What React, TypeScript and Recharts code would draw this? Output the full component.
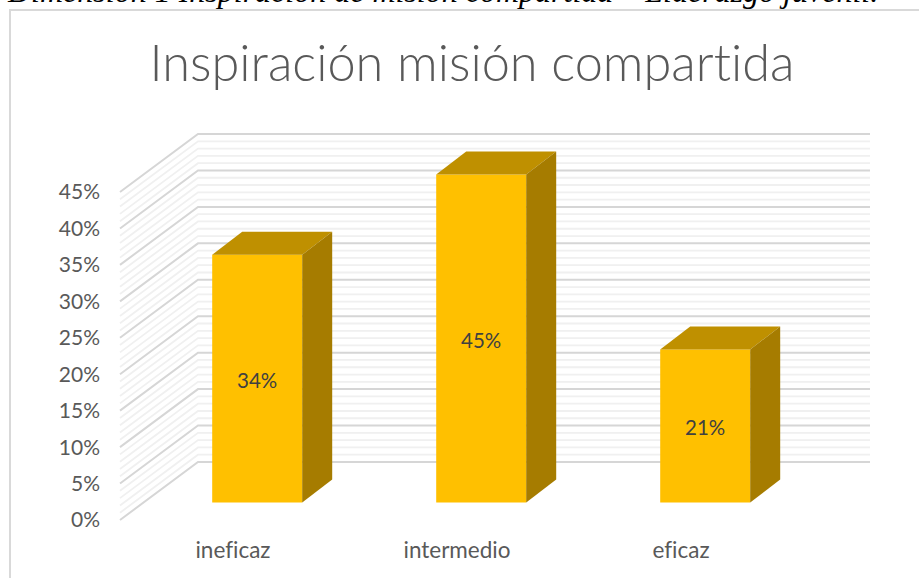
import React from "react";
import { BarChart, Bar, XAxis, YAxis, CartesianGrid, LabelList } from "recharts";

const categories = ["ineficaz", "intermedio", "eficaz"];
const seriesValues = [34, 45, 21];
const yTicks = [0, 5, 10, 15, 20, 25, 30, 35, 40, 45];
const gridValues = [
  0, 1, 2, 3, 4, 5, 6, 7, 8, 9, 10, 11, 12, 13, 14, 15, 16, 17, 18, 19, 20, 21, 22,
  23, 24, 25, 26, 27, 28, 29, 30, 31, 32, 33, 34, 35, 36, 37, 38, 39, 40, 41, 42, 43, 44, 45,
];
const titleText = "Inspiración misión compartida";
const captionText = "Dimensión 1 Inspiración de misión compartida – Liderazgo juvenil.";

const data = categories.map((name, i) => ({ name, value: seriesValues[i] }));

const WALL_DX = 78;
const WALL_DY = 58;
const BAR_SHIFT_X = 25;
const BAR_SHIFT_Y = 17.5;
const BAR_DX = 30;
const BAR_DY = 23;
const FONT = "Lato, 'Open Sans', sans-serif";
const noLig = { fontVariantLigatures: "none" } as React.CSSProperties;

const WallLine = (props: any) => {
  const { x1, x2, y1, index, total } = props;
  const major = (total - 1 - index) % 5 === 0 || index % 5 === 0;
  return (
    <polyline
      points={`${x1},${y1} ${x1 + WALL_DX},${y1 - WALL_DY} ${x2 + WALL_DX},${y1 - WALL_DY}`}
      fill="none"
      stroke={major ? "#d6d6d6" : "#f0f0f0"}
      strokeWidth={major ? 2 : 1.8}
    />
  );
};

const Bar3D = (props: any) => {
  const x = props.x + BAR_SHIFT_X;
  const y = props.y - BAR_SHIFT_Y;
  const { width: w, height: h } = props;
  return (
    <g>
      <rect x={x} y={y} width={w} height={h} fill="#FFC000" />
      <polygon
        points={`${x},${y} ${x + BAR_DX},${y - BAR_DY} ${x + w + BAR_DX},${y - BAR_DY} ${x + w},${y}`}
        fill="#BF9000"
      />
      <polygon
        points={`${x + w},${y} ${x + w + BAR_DX},${y - BAR_DY} ${x + w + BAR_DX},${y + h - BAR_DY} ${x + w},${y + h}`}
        fill="#A67C00"
      />
    </g>
  );
};

const BarLabel = (props: any) => {
  const { x, y, width, height, value } = props;
  return (
    <text
      x={x + BAR_SHIFT_X + width / 2}
      y={y - BAR_SHIFT_Y + height / 2 + 1}
      textAnchor="middle"
      dominantBaseline="central"
      fontFamily={FONT}
      fontSize={20.5}
      fill="#404040"
    >
      {`${value}%`}
    </text>
  );
};

export default function App() {
  return (
    <div style={{ position: "absolute", left: 0, top: 0, width: 919, height: 578, overflow: "hidden", background: "#fff" }}>
      <div
        style={{
          position: "absolute",
          left: 8,
          top: -29,
          whiteSpace: "nowrap",
          fontFamily: "'Liberation Serif', serif",
          fontStyle: "italic",
          fontSize: 32,
          lineHeight: "40px",
          color: "#000",
        }}
      >
        {captionText}
      </div>
      <div style={{ position: "absolute", left: 9, top: 9, width: 910, height: 569, borderLeft: "2px solid #d9d9d9", borderTop: "2px solid #d9d9d9" }} />
      <div
        style={{
          position: "absolute",
          left: 0,
          width: 944,
          top: 32,
          textAlign: "center",
          fontFamily: "Lato, sans-serif",
          fontWeight: 300,
          fontSize: 50.5,
          lineHeight: "60px",
          color: "#595959",
          whiteSpace: "nowrap",
          ...noLig,
        }}
      >
        {titleText}
      </div>
      <div style={{ position: "absolute", left: 0, top: 0, ...noLig }}>
        <BarChart
          width={919}
          height={578}
          data={data}
          margin={{ top: 192, right: 127, bottom: 0, left: 0 }}
          barCategoryGap="30%"
        >
          <CartesianGrid
            vertical={false}
            horizontal={(p: any) => <WallLine key={p.index} total={gridValues.length} {...p} />}
            horizontalValues={gridValues}
          />
          <XAxis
            dataKey="name"
            axisLine={false}
            tickLine={false}
            height={58}
            tickMargin={16}
            interval={0}
            tick={{ fontFamily: FONT, fontSize: 22.5, fill: "#595959", dx: 1 }}
          />
          <YAxis
            type="number"
            domain={[0, 45]}
            ticks={yTicks}
            interval={0}
            width={120}
            axisLine={false}
            tickLine={false}
            tickMargin={14}
            tickFormatter={(v: number) => `${v}%`}
            tick={{ fontFamily: FONT, fontSize: 21, fill: "#595959" }}
          />
          <Bar dataKey="value" isAnimationActive={false} shape={<Bar3D />}>
            <LabelList dataKey="value" content={<BarLabel />} />
          </Bar>
        </BarChart>
      </div>
    </div>
  );
}
